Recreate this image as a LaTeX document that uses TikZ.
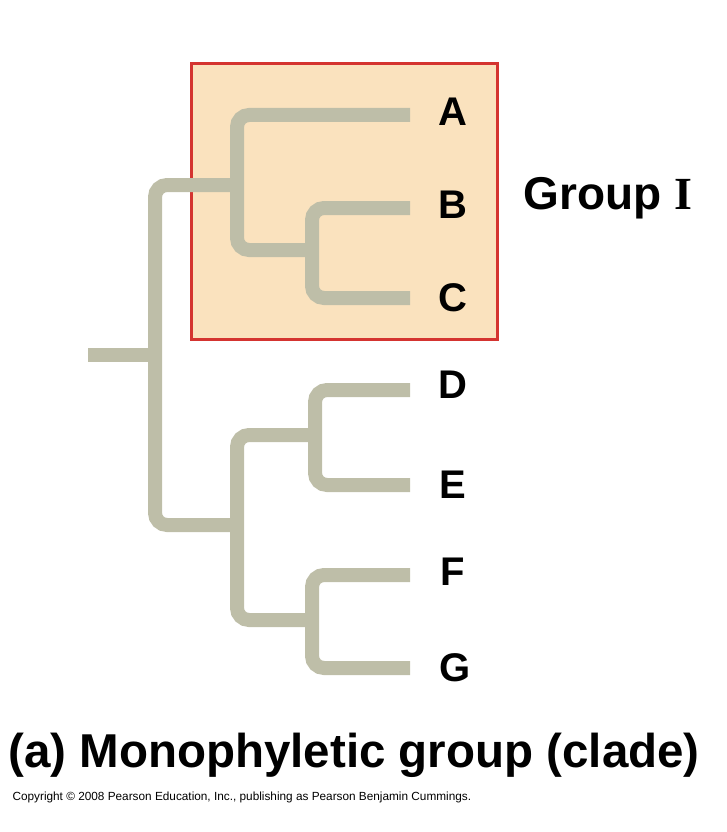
\documentclass[tikz,border=0pt]{standalone}
\usepackage{fontspec}
\setmainfont{Liberation Sans}
\begin{document}
\begin{tikzpicture}[x=1pt,y=-1pt]
\definecolor{br}{RGB}{190,190,168}
\definecolor{boxf}{RGB}{250,226,190}
\definecolor{boxr}{RGB}{212,52,48}
\tikzset{branch/.style={draw=br,line width=14pt,rounded corners=12pt},
 tip/.style={font=\bfseries\fontsize{40}{40}\selectfont,anchor=center}}
\useasboundingbox (0,0) rectangle (726,832);
\node[draw=boxr,fill=boxf,line width=3pt,minimum width=306pt,minimum height=276pt,anchor=north west,inner sep=0pt] (box) at (190,62) {};
\coordinate (root) at (88,355);
\coordinate (tA) at (410,115);
\coordinate (tB) at (410,208);
\coordinate (tC) at (410,298);
\coordinate (tD) at (410,390);
\coordinate (tE) at (410,485);
\coordinate (tF) at (410,575);
\coordinate (tG) at (410,668);
\draw[branch] (root) -- (155,355);
\draw[branch] (237,185) -- (155,185) -- (155,525) -- (237,525);
\draw[branch] (tA) -- (237,115) -- (237,250) -- (312,250);
\draw[branch] (tB) -- (312,208) -- (312,298) -- (tC);
\draw[branch] (237,185) -- (237,200);
\draw[branch] (315,435) -- (237,435) -- (237,620) -- (312,620);
\draw[branch] (237,520) -- (237,530);
\draw[branch] (tD) -- (315,390) -- (315,485) -- (tE);
\draw[branch] (tF) -- (312,575) -- (312,668) -- (tG);
\node[tip] (A) at (453,112) {A};
\node[tip] (B) at (453,205) {B};
\node[tip] (C) at (453,298) {C};
\node[tip] (D) at (453,385) {D};
\node[tip] (E) at (453,485) {E};
\node[tip] (F) at (453,572) {F};
\node[tip] (G) at (455,668) {G};
\node[font=\bfseries\fontsize{46}{46}\selectfont] (grp) at (608,198) {Group {\fontspec{Liberation Serif}I}};
\node[font=\bfseries\fontsize{47.5}{48}\selectfont] (cap) at (354,755) {(a) Monophyletic group (clade)};
\node[font=\fontsize{11.8}{12}\selectfont,anchor=west] (copy) at (9,797) {Copyright © 2008 Pearson Education, Inc., publishing as Pearson Benjamin Cummings.};
\end{tikzpicture}
\end{document}
